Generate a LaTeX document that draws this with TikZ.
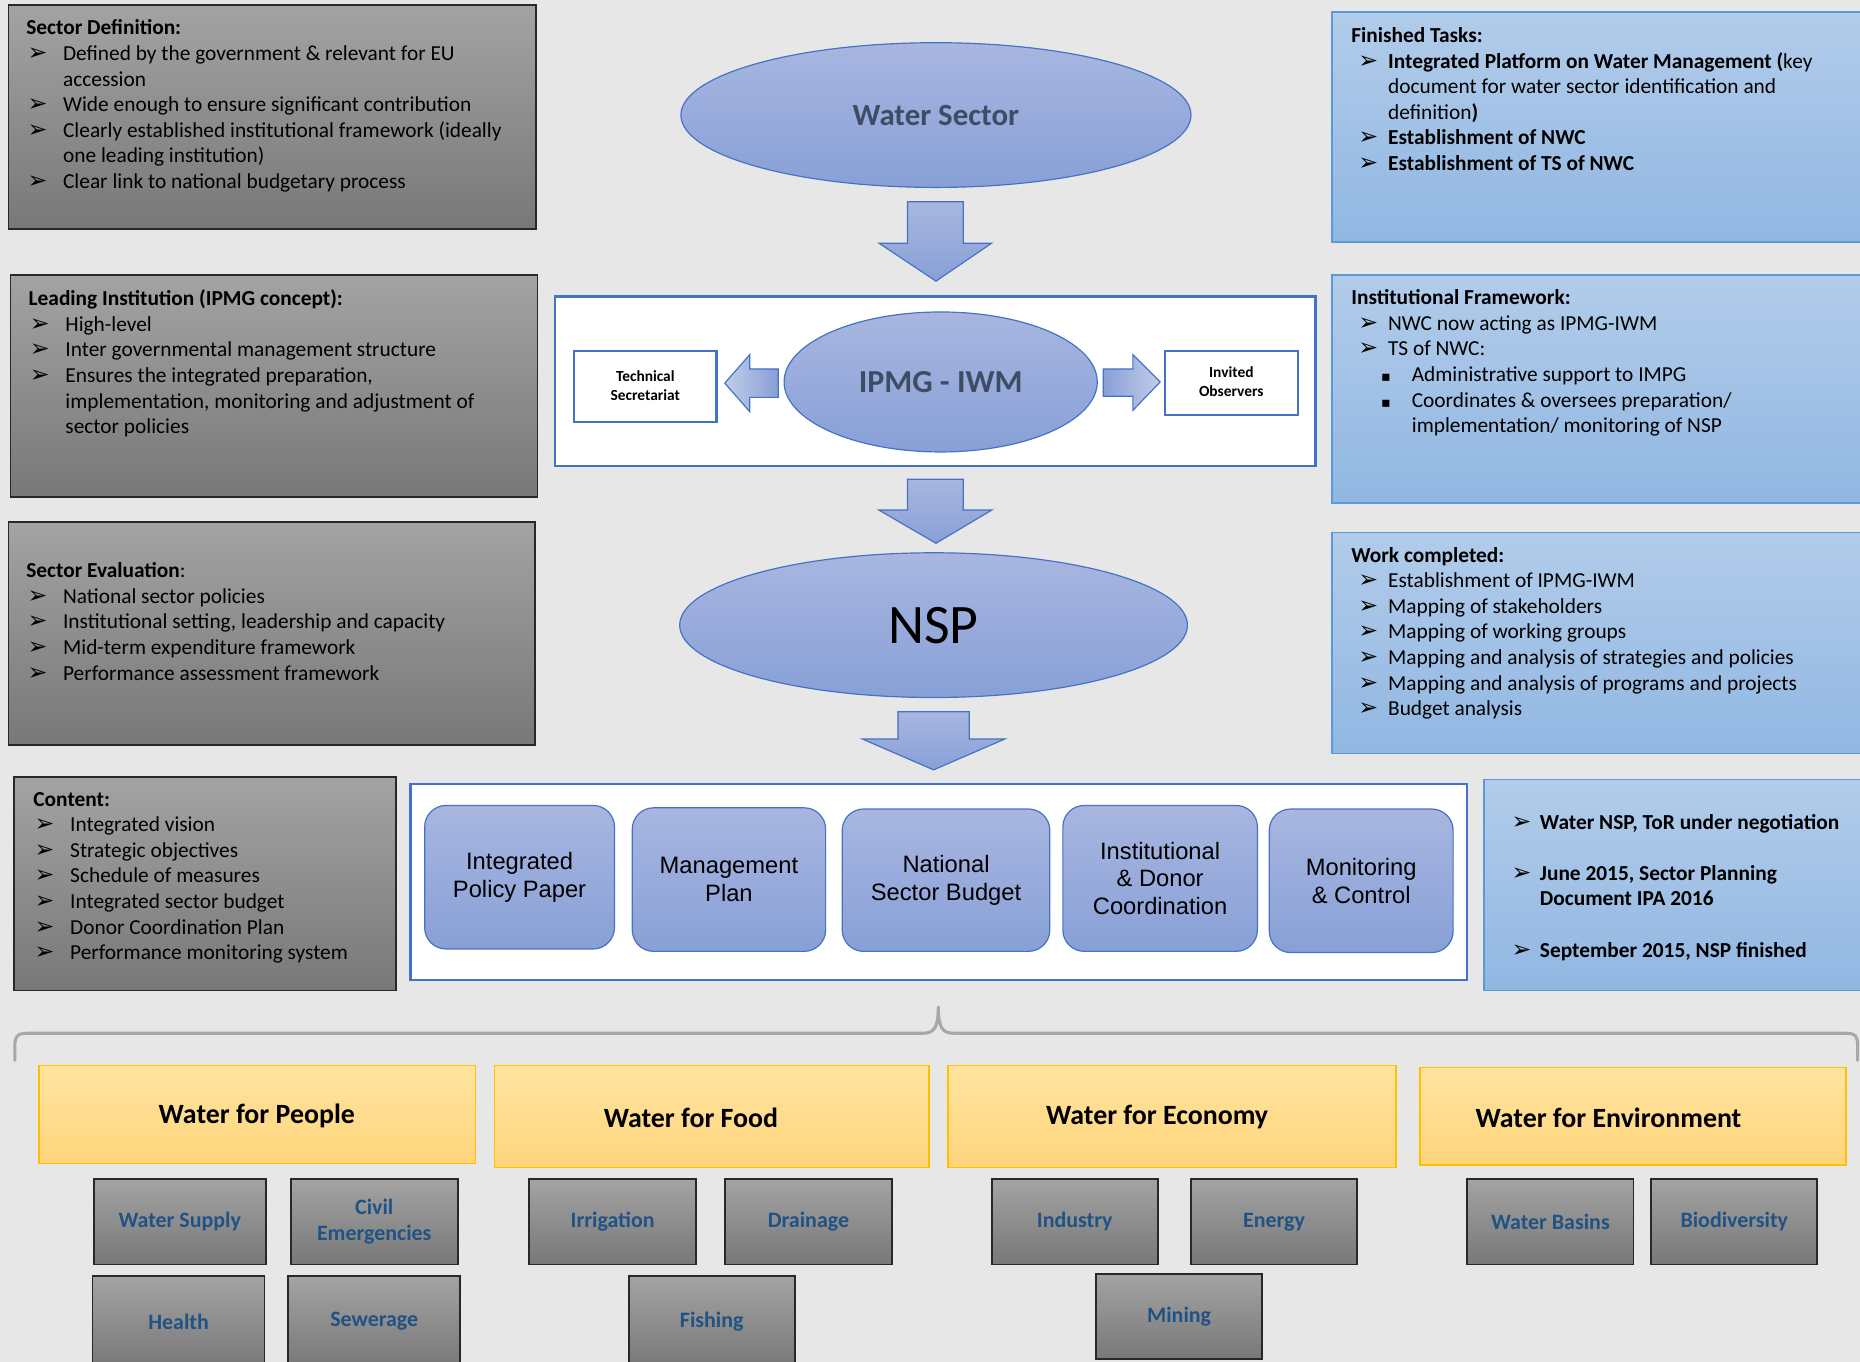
\documentclass[tikz,border=0pt]{standalone}
\usepackage{fontspec}
\setmainfont{Carlito}
\newfontfamily\arialf{Liberation Sans}
\newfontfamily\dejavu{DejaVu Sans}
\usetikzlibrary{shapes.geometric,fit}
\definecolor{bg}{RGB}{232,231,232}
\definecolor{gtop}{RGB}{163,163,163}
\definecolor{gbot}{RGB}{120,120,120}
\definecolor{gbrd}{RGB}{40,40,40}
\definecolor{btop}{RGB}{178,204,234}
\definecolor{bbot}{RGB}{145,183,226}
\definecolor{bbrd}{RGB}{91,155,213}
\definecolor{etop}{RGB}{168,182,224}
\definecolor{ebot}{RGB}{136,160,215}
\definecolor{ebrd}{RGB}{68,114,196}
\definecolor{ytop}{RGB}{255,228,160}
\definecolor{ybot}{RGB}{255,213,124}
\definecolor{ybrd}{RGB}{255,192,0}
\definecolor{etxt}{RGB}{62,77,100}
\definecolor{stxt}{RGB}{33,82,133}
\definecolor{bracec}{RGB}{168,168,168}
\newcommand{\arr}{{\dejavu\fontsize{20}{20}\selectfont ➢}}
\newcommand{\blt}{\hspace*{1pt}\makebox[30pt][l]{\arr}}
\newcommand{\bli}{\hspace*{31pt}}
\newcommand{\brt}{\hspace*{6pt}\makebox[25pt][l]{\arr}}
\newcommand{\sqb}{\hspace*{25pt}\makebox[26pt][l]{{\dejavu\fontsize{12}{12}\selectfont ▪}}}
\begin{document}
\begin{tikzpicture}[x=1pt,y=-1pt,
  graybox/.style={draw=gbrd, line width=1.3pt, top color=gtop, bottom color=gbot, inner sep=0},
  bluebox/.style={draw=bbrd, line width=1.2pt, top color=btop, bottom color=bbot, inner sep=0},
  ell/.style={ellipse, draw=ebrd, line width=1pt, top color=etop, bottom color=ebot, inner sep=0},
  whitebox/.style={draw=ebrd, line width=1.8pt, fill=white, inner sep=0},
  comp/.style={draw=ebrd, line width=1pt, rounded corners=18pt, top color=etop, bottom color=ebot, inner sep=0, align=center, font=\arialf\fontsize{20}{23.5}\selectfont},
  ybox/.style={draw=ybrd, line width=1.2pt, top color=ytop, bottom color=ybot, inner sep=0},
  ylab/.style={font=\bfseries\fontsize{23.5}{28}\selectfont, inner sep=0},
  sbox/.style={draw=gbrd, line width=1.6pt, top color=gtop, bottom color=gbot, inner sep=0, minimum width=141pt, minimum height=72pt, text=stxt, align=center, font=\bfseries\fontsize{18.5}{22}\selectfont},
  list/.style={anchor=north west, align=left, inner sep=0, font=\fontsize{18}{21.6}\selectfont},
  barrow/.style={draw=ebrd, line width=1pt, top color=etop, bottom color=ebot},
  harrowL/.style={draw=ebrd, line width=1pt, left color=etop!70!white, right color=ebot},
  harrowR/.style={draw=ebrd, line width=1pt, left color=ebot, right color=etop!70!white},
  smallbox/.style={draw=ebrd, line width=1.8pt, fill=white, inner sep=0, align=center, font=\bfseries\fontsize{13}{16}\selectfont}
]
\path[use as bounding box] (0,0) rectangle (1568,1148);
\fill[bg] (0,0) rectangle (1568,1148);
\clip (0,0) rectangle (1568,1148);

% ---------- left gray boxes ----------
\node[graybox, fit={(7,4) (452,193)}] (sdef) {};
\node[list] (sdeft) at (22,16.5) {\textbf{Sector Definition:}\\
\blt Defined by the government \& relevant for EU\\
\bli accession\\
\blt Wide enough to ensure significant contribution\\
\blt Clearly established institutional framework (ideally\\
\bli one leading institution)\\
\blt Clear link to national budgetary process};

\node[graybox, fit={(9,232) (453,419)}] (lead) {};
\node[list] (leadt) at (24,244) {\textbf{Leading Institution (IPMG concept):}\\
\blt High-level\\
\blt Inter governmental management structure\\
\blt Ensures the integrated preparation,\\
\bli implementation, monitoring and adjustment of\\
\bli sector policies};

\node[graybox, fit={(7,440) (451,628)}] (seval) {};
\node[list] (sevalt) at (22,474) {\textbf{Sector Evaluation}:\\
\blt National sector policies\\
\blt Institutional setting, leadership and capacity\\
\blt Mid-term expenditure framework\\
\blt Performance assessment framework};

\node[graybox, fit={(12,655) (334,835)}] (cont) {};
\node[list] (contt) at (28,667.5) {\textbf{Content:}\\
\blt Integrated vision\\
\blt Strategic objectives\\
\blt Schedule of measures\\
\blt Integrated sector budget\\
\blt Donor Coordination Plan\\
\blt Performance monitoring system};

% ---------- right blue boxes ----------
\node[bluebox, fit={(1123,10) (1585,204)}] (fin) {};
\node[list] (fint) at (1139,23) {\textbf{Finished Tasks:}\\
\brt \textbf{Integrated Platform on Water Management (}key\\
\bli document for water sector identification and\\
\bli definition\textbf{)}\\
\brt \textbf{Establishment of NWC}\\
\brt \textbf{Establishment of TS of NWC}};

\node[bluebox, fit={(1123,232) (1585,424)}] (inst) {};
\node[list] (instt) at (1139,244) {\textbf{Institutional Framework:}\\
\brt NWC now acting as IPMG-IWM\\
\brt TS of NWC:\\
\sqb Administrative support to IMPG\\
\sqb Coordinates \& oversees preparation/\\
\hspace*{51pt}implementation/ monitoring of NSP};

\node[bluebox, fit={(1123,449) (1585,635)}] (work) {};
\node[list] (workt) at (1139,461) {\textbf{Work completed:}\\
\brt Establishment of IPMG-IWM\\
\brt Mapping of stakeholders\\
\brt Mapping of working groups\\
\brt Mapping and analysis of strategies and policies\\
\brt Mapping and analysis of programs and projects\\
\brt Budget analysis};

\node[bluebox, fit={(1251,657) (1585,835)}] (sched) {};
\node[list, font=\bfseries\fontsize{18}{21.6}\selectfont] (schedt) at (1274,686) {\makebox[24pt][l]{\arr}Water NSP, ToR under negotiation\\[21.6pt]
\makebox[24pt][l]{\arr}June 2015, Sector Planning\\
\hspace*{24pt}Document IPA 2016\\[21.6pt]
\makebox[24pt][l]{\arr}September 2015, NSP finished};

% ---------- centre column ----------
\node[ell, minimum width=430pt, minimum height=122pt, text=etxt, font=\bfseries\fontsize{26}{30}\selectfont] (ws) at (789,97) {Water Sector};

\draw[barrow] (765,170) -- (812,170) -- (812,205) -- (836,205) -- (789,237) -- (741,205) -- (765,205) -- cycle;

\node[whitebox, fit={(468,250) (1109,393)}] (ipbox) {};
\node[smallbox, fit={(484,296) (604,356)}] (ts) {};
\node[font=\bfseries\fontsize{13}{16}\selectfont, align=center, inner sep=0] (tst) at ([yshift=1pt]ts.center) {Technical\\Secretariat};
\node[smallbox, fit={(982,296) (1094,350)}] (io) {};
\node[font=\bfseries\fontsize{13}{16}\selectfont, align=center, inner sep=0] (iot) at ([yshift=1pt]io.center) {Invited\\Observers};
\node[ell, minimum width=264pt, minimum height=118pt, text=etxt, font=\bfseries\fontsize{27}{30}\selectfont] (ipmg) at (793,322) {IPMG - IWM};
\draw[harrowL] (611,323) -- (632,299) -- (632,311) -- (656,311) -- (656,335) -- (632,335) -- (632,347) -- cycle;
\draw[harrowR] (930,311) -- (955,311) -- (955,299) -- (978,322) -- (955,346) -- (955,334) -- (930,334) -- cycle;

\draw[barrow] (765,404) -- (812,404) -- (812,430) -- (836,430) -- (789,458) -- (741,430) -- (765,430) -- cycle;

\node[ell, minimum width=428pt, minimum height=122pt, font=\fontsize{47}{50}\selectfont] (nsp) at (787,527) {NSP};

\draw[barrow] (757,600) -- (817,600) -- (817,623) -- (847,623) -- (787,649) -- (727,623) -- (757,623) -- cycle;

\node[whitebox, fit={(346,661) (1237,826)}] (compbox) {};
\node[comp, minimum width=160pt, minimum height=121pt] (c1) at (438,739.5) {Integrated\\Policy Paper};
\node[comp, minimum width=163pt, minimum height=121pt] (c2) at (614.5,741.5) {Management\\Plan};
\node[comp, minimum width=175pt, minimum height=120pt] (c3) at (797.5,742) {National\\Sector Budget};
\node[comp, minimum width=164pt, minimum height=123pt] (c4) at (978,740.5) {Institutional\\\& Donor\\Coordination};
\node[comp, minimum width=155pt, minimum height=121pt] (c5) at (1147.5,742.5) {Monitoring\\\& Control};

% ---------- brace ----------
\draw[bracec, line width=2.6pt, line cap=round, line join=round]
  (12.5,894) -- (12.5,882) .. controls (12.5,873) and (15,871) .. (24,871)
  -- (778,871) .. controls (787,871) and (791,867) .. (791,849)
  .. controls (791,867) and (795,871) .. (804,871)
  -- (1555,871) .. controls (1564,871) and (1566,873) .. (1566,882) -- (1566,894);

% ---------- water for ... ----------
\node[ybox, minimum width=368pt, minimum height=83pt] (wp) at (217,939.5) {};
\node[ylab] (wpt) at (216.5,941) {Water for People};
\node[ybox, minimum width=366pt, minimum height=86pt] (wf) at (600,941) {};
\node[ylab] (wft) at (582.5,942) {Water for Food};
\node[ybox, minimum width=378pt, minimum height=86pt] (we) at (988,941) {};
\node[ylab] (wet) at (975.5,942) {Water for Economy};
\node[ybox, minimum width=359pt, minimum height=82pt] (wv) at (1376.5,941) {};
\node[ylab] (wvt) at (1356,942) {Water for Environment};

% ---------- sub-sector boxes ----------
\node[sbox, minimum width=145pt] (s1) at (151.5,1030) {Water Supply};
\node[sbox] (s2) at (315.5,1030) {Civil\\Emergencies};
\node[sbox, minimum width=145pt, minimum height=76pt] (s3) at (150.5,1114) {Health};
\node[sbox, minimum width=145pt, minimum height=76pt] (s4) at (315.5,1114) {Sewerage};
\node[sbox] (s5) at (516.5,1030) {Irrigation};
\node[sbox] (s6) at (681.5,1030) {Drainage};
\node[sbox, minimum width=140pt, minimum height=76pt] (s7) at (600,1114) {Fishing};
\node[sbox, minimum width=140pt] (s8) at (906,1030) {Industry};
\node[sbox, minimum width=140pt] (s9) at (1074,1030) {Energy};
\node[sbox, minimum width=140pt] (s10) at (994,1110) {Mining};
\node[sbox, minimum width=140pt] (s11) at (1307,1030) {Water Basins};
\node[sbox, minimum width=140pt] (s12) at (1462,1030) {Biodiversity};
\end{tikzpicture}
\end{document}
